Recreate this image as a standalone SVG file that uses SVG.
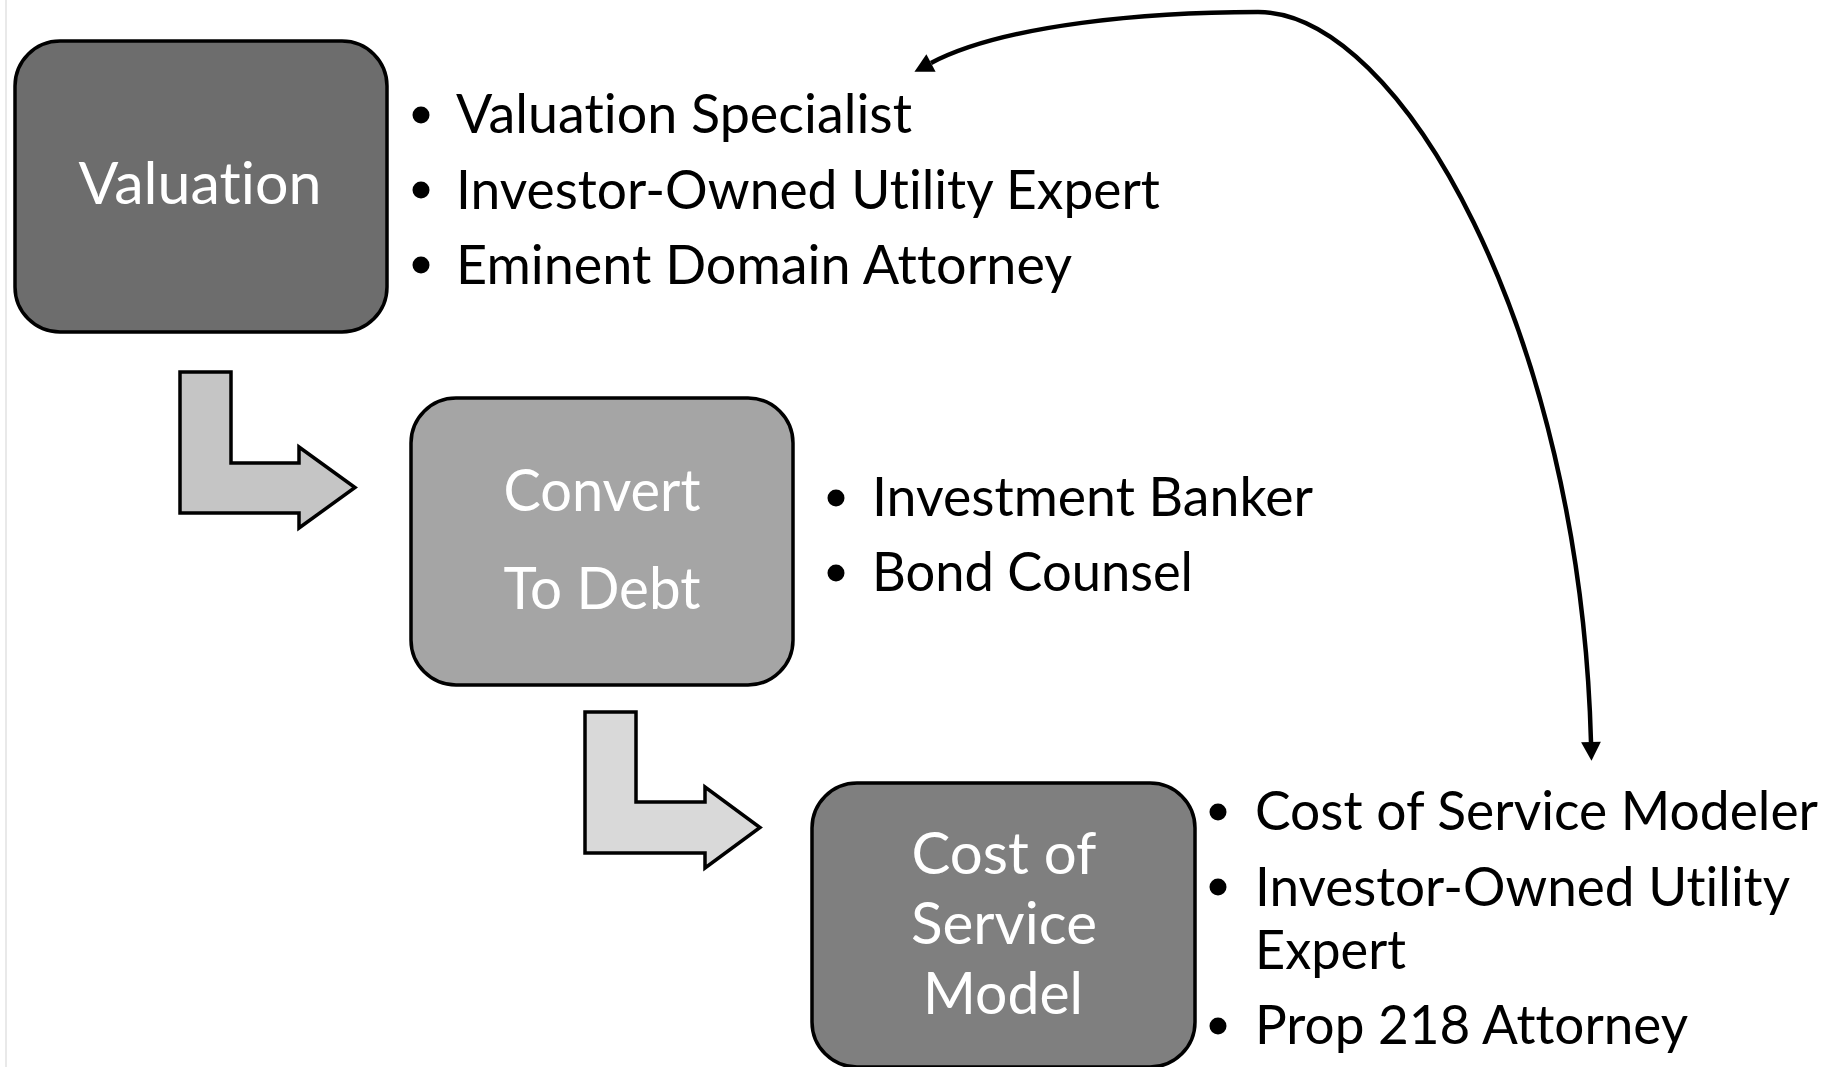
<svg xmlns="http://www.w3.org/2000/svg" width="1843" height="1067" viewBox="0 0 1843 1067">
<style>
text{font-variant-ligatures:none;font-feature-settings:"liga" 0,"dlig" 0}
.box{stroke:#000;stroke-width:3.5}
.lbl{font-family:Lato,"Open Sans","Liberation Sans",sans-serif;font-size:58px;fill:#fff;text-anchor:middle}
.itm{font-family:Lato,"Open Sans","Liberation Sans",sans-serif;font-size:54px;fill:#000}
.bul{fill:#000}
.bent{stroke:#000;stroke-width:3.5;stroke-linejoin:miter}
.conn{fill:none;stroke:#000;stroke-width:4.5}
</style>
<defs>
<marker id="ah" markerUnits="userSpaceOnUse" markerWidth="22" markerHeight="22" refX="0" refY="0" viewBox="0 -10 18 20" orient="auto-start-reverse">
<path d="M0,-9 L17,0 L0,9 z" fill="#000"/>
</marker>
</defs>
<rect x="0" y="0" width="1843" height="1067" fill="#fff"/>
<line x1="6" y1="0" x2="6" y2="1067" stroke="#e2e2e2" stroke-width="1.5"/>

<g id="connectors">
<path class="conn" d="M 931 63 C 1005 24, 1150 12, 1258 12 C 1400 12, 1580 330, 1591 742" marker-start="url(#ah)" marker-end="url(#ah)"/>
</g>

<g id="arrow1">
<polygon class="bent" fill="#c5c5c5" points="180,372 231,372 231,463 299,463 299,447 355,487.5 299,528 299,513 180,513"/>
</g>
<g id="arrow2">
<polygon class="bent" fill="#d9d9d9" points="585,712 636,712 636,802 705,802 705,787 760,827.5 705,868 705,853 585,853"/>
</g>

<g id="valuation">
<rect class="box" x="15" y="41" width="372" height="291" rx="45" ry="45" fill="#6d6d6d"/>
<text class="lbl" x="200" y="204" textLength="243" lengthAdjust="spacingAndGlyphs">Valuation</text>
</g>
<g id="valuation-list">
<circle class="bul" cx="421" cy="115" r="8.5"/>
<circle class="bul" cx="421" cy="190" r="8.5"/>
<circle class="bul" cx="421" cy="265" r="8.5"/>
<text class="itm" x="456" y="133" textLength="456" lengthAdjust="spacingAndGlyphs">Valuation Specialist</text>
<text class="itm" x="456" y="209" textLength="704" lengthAdjust="spacingAndGlyphs">Investor-Owned Utility Expert</text>
<text class="itm" x="456" y="284" textLength="616" lengthAdjust="spacingAndGlyphs">Eminent Domain Attorney</text>
</g>

<g id="convert">
<rect class="box" x="411" y="398" width="382" height="287" rx="45" ry="45" fill="#a5a5a5"/>
<text class="lbl" x="602" y="511" textLength="197" lengthAdjust="spacingAndGlyphs">Convert</text>
<text class="lbl" x="602" y="609" textLength="197" lengthAdjust="spacingAndGlyphs">To Debt</text>
</g>
<g id="convert-list">
<circle class="bul" cx="836" cy="498" r="8.5"/>
<circle class="bul" cx="836" cy="573" r="8.5"/>
<text class="itm" x="872" y="516" textLength="441" lengthAdjust="spacingAndGlyphs">Investment Banker</text>
<text class="itm" x="872" y="591" textLength="321" lengthAdjust="spacingAndGlyphs">Bond Counsel</text>
</g>

<g id="cost">
<rect class="box" x="812" y="783" width="383" height="284" rx="45" ry="45" fill="#7f7f7f"/>
<text class="lbl" x="1004" y="874" textLength="185" lengthAdjust="spacingAndGlyphs">Cost of</text>
<text class="lbl" x="1004" y="944" textLength="186" lengthAdjust="spacingAndGlyphs">Service</text>
<text class="lbl" x="1003" y="1014" textLength="160" lengthAdjust="spacingAndGlyphs">Model</text>
</g>
<g id="cost-list">
<circle class="bul" cx="1218" cy="812" r="8.5"/>
<circle class="bul" cx="1218" cy="887" r="8.5"/>
<circle class="bul" cx="1218" cy="1026" r="8.5"/>
<text class="itm" x="1255" y="830" textLength="563" lengthAdjust="spacingAndGlyphs">Cost of Service Modeler</text>
<text class="itm" x="1255" y="906" textLength="535" lengthAdjust="spacingAndGlyphs">Investor-Owned Utility</text>
<text class="itm" x="1255" y="969" textLength="151" lengthAdjust="spacingAndGlyphs">Expert</text>
<text class="itm" x="1255" y="1044" textLength="433" lengthAdjust="spacingAndGlyphs">Prop 218 Attorney</text>
</g>
</svg>
